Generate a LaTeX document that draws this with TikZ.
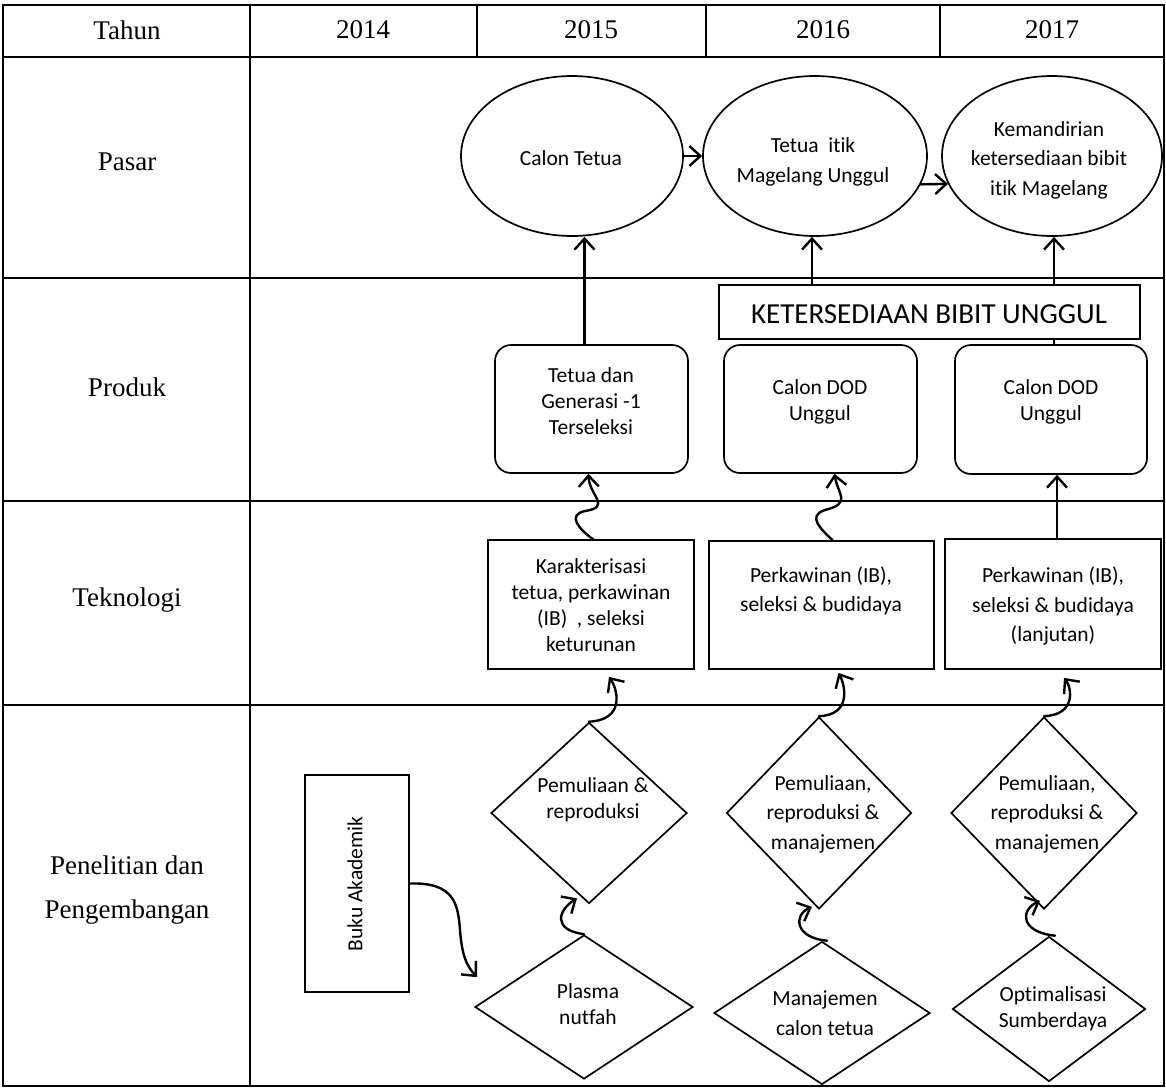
\documentclass[tikz,border=0pt]{standalone}
\usepackage{fontspec}
\setmainfont{Liberation Serif}
\newfontfamily\calfont[Ligatures={NoCommon,NoContextual}]{Carlito}
\usetikzlibrary{shapes.geometric,arrows.meta}
\begin{document}
\begin{tikzpicture}[x=1pt,y=-1pt,
  tbl/.style={line width=2.2pt},
  shp/.style={draw, line width=1.7pt, inner sep=0pt},
  ell/.style={shp, ellipse, minimum height=160pt},
  rbox/.style={shp, rectangle, rounded corners=16pt},
  sbox/.style={shp, rectangle},
  dia/.style={shp, diamond},
  txt/.style={font=\calfont\fontsize{21.5}{26}\selectfont, align=center, inner sep=0pt},
  txtw/.style={font=\calfont\fontsize{21.5}{29.5}\selectfont, align=center, inner sep=0pt},
  kbt/.style={font=\calfont\fontsize{29}{34}\selectfont, inner sep=0pt},
  lbl/.style={font=\fontsize{27}{44}\selectfont, align=center, inner sep=0pt},
  arr/.style={line width=2.4pt, line cap=round, line join=round, -{Straight Barb[length=11pt,width=20pt]}},
  ln/.style={line width=2.4pt}
]
\useasboundingbox (0,0) rectangle (1166,1088);

% table
\draw[tbl] (3,5) rectangle (1164,1086);
\draw[tbl] (3,57) -- (1164,57);
\draw[tbl] (3,278) -- (1164,278);
\draw[tbl] (3,501) -- (1164,501);
\draw[tbl] (3,705) -- (1164,705);
\draw[tbl] (250,5) -- (250,1086);
\draw[tbl] (477,5) -- (477,57);
\draw[tbl] (706,5) -- (706,57);
\draw[tbl] (940,5) -- (940,57);

% header and row labels
\node[lbl] (hT) at (127,30) {Tahun};
\node[lbl] (h14) at (363,30) {2014};
\node[lbl] (h15) at (591,30) {2015};
\node[lbl] (h16) at (823,30) {2016};
\node[lbl] (h17) at (1052,30) {2017};
\node[lbl] (rP) at (127,162) {Pasar};
\node[lbl] (rPr) at (127,387) {Produk};
\node[lbl] (rT) at (127,600) {Teknologi};
\node[lbl] (rR) at (127,890) {Penelitian dan\\Pengembangan};

% Pasar
\node[ell, minimum width=222pt] (E1) at (572,156) {};
\node[ell, minimum width=224pt] (E2) at (815,156) {};
\node[ell, minimum width=220pt] (E3) at (1052,156) {};
\node[txt] (E1t) at (571,158) {Calon Tetua};
\node[txtw] (E2t) at (813,162) {Tetua\ \ itik\\Magelang Unggul};
\node[txtw] (E3t) at (1049,160) {Kemandirian\\ketersediaan bibit\\itik Magelang};

% Produk
\node[sbox, minimum width=421pt, minimum height=54pt] (KB) at (929.5,312) {};
\node[kbt] (KBt) at (929,314) {KETERSEDIAAN BIBIT UNGGUL};
\node[rbox, minimum width=193pt, minimum height=128pt] (T1) at (591.5,409) {};
\node[rbox, minimum width=193pt, minimum height=128pt] (T2) at (820.5,409) {};
\node[rbox, minimum width=192pt, minimum height=129pt] (T3) at (1051,409.5) {};
\node[txt] (T1t) at (591,401) {Tetua dan\\Generasi -1\\Terseleksi};
\node[txt] (T2t) at (820,402) {Calon DOD\\Unggul};
\node[txt] (T3t) at (1051,402) {Calon DOD\\Unggul};

% Teknologi
\node[sbox, minimum width=206pt, minimum height=129pt] (K1) at (591,604.5) {};
\node[sbox, minimum width=225pt, minimum height=128pt] (K2) at (821.5,605) {};
\node[sbox, minimum width=216pt, minimum height=130pt] (K3) at (1053,604) {};
\node[txt] (K1t) at (591,605) {Karakterisasi\\tetua, perkawinan\\(IB)\ \ , seleksi\\keturunan};
\node[txtw] (K2t) at (821,591) {Perkawinan (IB),\\seleksi \& budidaya};
\node[txtw] (K3t) at (1053,606) {Perkawinan (IB),\\seleksi \& budidaya\\(lanjutan)};

% Penelitian
\node[sbox, minimum width=104pt, minimum height=217pt] (BK) at (357,883.5) {};
\node[txt, rotate=90] (BKt) at (355,884) {Buku Akademik};
\node[dia, minimum width=196pt, minimum height=181pt] (D1) at (589,813) {};
\node[dia, minimum width=218pt, minimum height=144pt] (D2) at (584,1007) {};
\node[dia, minimum width=185pt, minimum height=192pt] (D3) at (819,813) {};
\node[dia, minimum width=216pt, minimum height=143pt] (D4) at (822,1013) {};
\node[dia, minimum width=186pt, minimum height=192pt] (D5) at (1044,813) {};
\node[dia, minimum width=193pt, minimum height=145pt] (D6) at (1049,1009) {};
\node[txt] (D1t) at (593,800) {Pemuliaan \&\\reproduksi};
\node[txt] (D2t) at (588,1004) {Plasma\\nutfah};
\node[txtw] (D3t) at (823,814) {Pemuliaan,\\reproduksi \&\\manajemen};
\node[txtw] (D4t) at (825,1013) {Manajemen\\calon tetua};
\node[txtw] (D5t) at (1047,814) {Pemuliaan,\\reproduksi \&\\manajemen};
\node[txt] (D6t) at (1053,1009) {Optimalisasi\\Sumberdaya};

% connectors: Pasar
\draw[arr] (E1.east) -- (E2.west);
\draw[arr] (E2.-15) -- (E3.195);
\draw[arr] ([xshift=-7pt]T1.north) -- ([xshift=-7pt]T1.north |- E1.south);
\draw[arr] ([xshift=-3pt]E2.south |- KB.north) -- ([xshift=-3pt]E2.south);
\draw[arr] ([xshift=2pt]E3.south |- KB.north) -- ([xshift=2pt]E3.south);
\draw[ln] ([xshift=3pt]T3.north |- KB.south) -- ([xshift=3pt]T3.north);

% Teknologi -> Produk
\draw[arr] ([xshift=2pt]K1.north) .. controls (580,530) and (566,515) .. (585,511)
  .. controls (612,507) and (589,495) .. ([xshift=-3pt]T1.south);
\draw[arr] ([xshift=11pt]K2.north) .. controls (822,530) and (806,516) .. (825,510)
  .. controls (852,503) and (838,495) .. ([xshift=14pt]T2.south);
\draw[arr] ([xshift=4pt]K3.north) -- ([xshift=4pt]K3.north |- T3.south);

% Penelitian -> Teknologi
\draw[arr] (D1.north) .. controls (625,720) and (618,690) .. ([shift={(18,7)}]K1.south);
\draw[arr] (D3.north) .. controls (852,715) and (845,685) .. ([shift={(17,3)}]K2.south);
\draw[arr] (D5.north) .. controls (1076,715) and (1072,688) .. ([shift={(11,8)}]K3.south);

% diamond -> diamond
\draw[arr] (D2.north) .. controls (552,930) and (558,910) .. ([shift={(-12,-6)}]D1.south);
\draw[arr] ([xshift=5pt]D4.north) .. controls (795,938) and (793,915) .. ([shift={(-7,-3)}]D3.south);
\draw[arr] ([xshift=6pt]D6.north) .. controls (1020,932) and (1020,910) .. ([shift={(-4,-9)}]D5.south);

% Buku Akademik -> Plasma nutfah
\draw[arr] (BK.east) .. controls (455,882) and (458,905) .. (460,930)
  .. controls (462,955) and (466,965) .. ([shift={(-107,43)}]D2.north);
\end{tikzpicture}
\end{document}
